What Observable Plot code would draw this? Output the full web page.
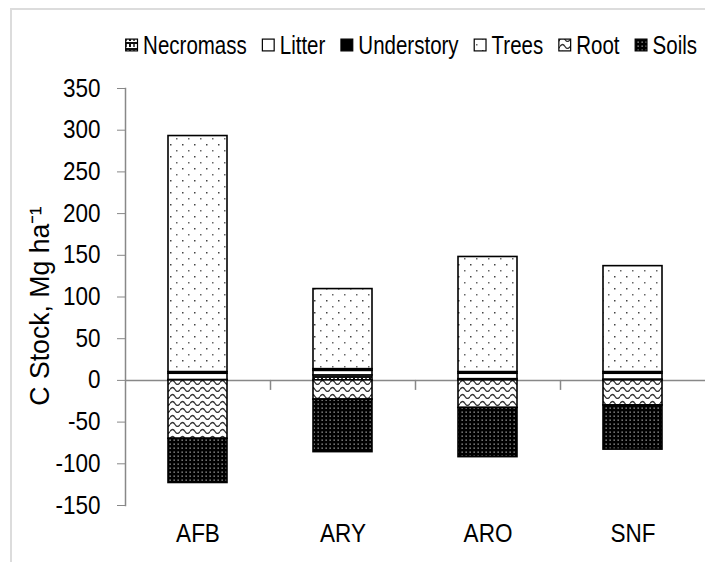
<!DOCTYPE html>
<html>
<head>
<meta charset="utf-8">
<script src="https://cdn.jsdelivr.net/npm/d3@7"></script>
<script src="https://cdn.jsdelivr.net/npm/@observablehq/plot@0.6"></script>
<style>
  html, body { margin: 0; padding: 0; background: #fff; }
  #wrap { position: relative; width: 705px; height: 562px; overflow: hidden; font-family: "Liberation Sans", Arial, sans-serif; }
  #border { position: absolute; left: 10px; top: 8px; width: 720px; height: 600px; border-left: 2px solid #dcdcdc; border-top: 2px solid #dcdcdc; pointer-events: none; }
  #legend svg, #chart svg { display: block; }
</style>
</head>
<body>
<div id="wrap">
  <div id="legend"></div>
  <div id="chart"></div>
  <div id="border"></div>
</div>
<script>
const sites = ["AFB", "ARY", "ARO", "SNF"];
const series = ["Necromass", "Litter", "Understory", "Trees", "Root", "Soils"];
const necromass = [0.5, 6, 1.5, 1];
const litter = [7.5, 5.5, 6.5, 7];
const understory = [2, 2, 2, 2];
const trees = [283, 96, 138, 127];
const root = [-70, -23, -33, -30];
const soils = [-53, -63, -59, -53];
const yTicks = [-150, -100, -50, 0, 50, 100, 150, 200, 250, 300, 350];

const valuesBySeries = { Necromass: necromass, Litter: litter, Understory: understory, Trees: trees, Root: root, Soils: soils };
const data = [];
series.forEach(s => sites.forEach((site, i) => data.push({ site, series: s, value: valuesBySeries[s][i] })));

const patternUrls = ["url(#p-necro)", "url(#p-litter)", "url(#p-under)", "url(#p-trees)", "url(#p-root)", "url(#p-soils)"];
const fontStack = "'Liberation Sans', Arial, sans-serif";

const defs = `
<defs>
  <pattern id="p-trees" patternUnits="userSpaceOnUse" width="12" height="12">
    <rect width="12" height="12" fill="#fff"/>
    <rect x="2" y="2" width="1.5" height="1.5" fill="#444"/>
    <rect x="8" y="8" width="1.5" height="1.5" fill="#666"/>
  </pattern>
  <pattern id="p-root" patternUnits="userSpaceOnUse" width="10" height="7">
    <rect width="10" height="7" fill="#fff"/>
    <path d="M0,4.5 Q2.5,0.5 5,4.5 T10,4.5" fill="none" stroke="#333" stroke-width="1.3"/>
  </pattern>
  <pattern id="p-soils" patternUnits="userSpaceOnUse" width="4" height="4">
    <rect width="4" height="4" fill="#000"/>
    <rect x="1.5" y="1.5" width="1.3" height="1.3" fill="#aaa"/>
  </pattern>
  <pattern id="p-necro" patternUnits="userSpaceOnUse" width="8" height="6">
    <rect width="8" height="6" fill="#fff"/>
    <rect x="0" y="0" width="8" height="2" fill="#111"/>
    <rect x="1" y="2" width="2" height="3" fill="#111"/>
    <rect x="5" y="2" width="2" height="3" fill="#555"/>
  </pattern>
  <pattern id="p-litter" patternUnits="userSpaceOnUse" width="4" height="4">
    <rect width="4" height="4" fill="#fff"/>
  </pattern>
  <pattern id="p-under" patternUnits="userSpaceOnUse" width="4" height="4">
    <rect width="4" height="4" fill="#000"/>
  </pattern>
</defs>`;

const chart = Plot.plot({
  width: 705,
  height: 492,
  marginTop: 18,
  marginBottom: 57,
  marginLeft: 125,
  marginRight: 0,
  style: { fontFamily: fontStack, fontSize: "25px", color: "#000", background: "#fff" },
  x: { domain: sites, padding: 0, axis: null },
  y: { domain: [-150, 350], axis: null },
  color: { domain: series, range: patternUrls },
  marks: [
    Plot.ruleY([0], { stroke: "#888", strokeWidth: 1.5 }),
    Plot.ruleX(sites.slice(0, 3), { x: d => d, y1: 0, y2: -12, dx: 72.5, stroke: "#888", strokeWidth: 1.5 }),
    Plot.barY(data, Plot.stackY({ x: "site", y: "value", z: "series", fill: "series", order: null, insetLeft: 43, insetRight: 43, stroke: "#000", strokeWidth: 1.6 })),
    Plot.frame({ anchor: "left", stroke: "#888", strokeWidth: 1.5 }),
    Plot.axisY({ ticks: yTicks, tickSize: 8, tickPadding: 17, stroke: "#888", strokeOpacity: 1, fontSize: 25, tickFormat: d => String(d), label: null, className: "squeeze" }),
    Plot.axisX({ tickSize: 0, tickPadding: 19, fontSize: 25, label: null, className: "squeeze" }),
    Plot.text(["C Stock, Mg ha⁻¹"], { frameAnchor: "left", textAnchor: "middle", dx: -85, dy: 9, rotate: -90, fontSize: 28, text: d => d, className: "title" })
  ]
});
chart.insertAdjacentHTML("afterbegin", defs);
document.getElementById("chart").appendChild(chart);

// Slightly condensed text, as in the reference
function squeeze(sel, ratio) {
  sel.each(function () {
    const len = this.getComputedTextLength();
    if (len > 0) {
      this.setAttribute("textLength", (len * ratio).toFixed(2));
      this.setAttribute("lengthAdjust", "spacingAndGlyphs");
    }
  });
}
squeeze(d3.select(chart).selectAll(".squeeze text"), 0.9);
squeeze(d3.select(chart).selectAll(".title text"), 0.95);

// Legend (drawn as SVG above the plot), text condensed with a horizontal scale
const lsvg = d3.select("#legend").append("svg").attr("width", 705).attr("height", 70)
  .style("font-family", fontStack).style("font-size", "25px");
const ratio = 0.82;
const iconSize = 13, iconGap = 5, itemGap = 15, rightEdge = 697, cy = 45;
const tmp = lsvg.append("text").attr("x", -999).attr("y", -999);
const widths = series.map(s => { tmp.text(s); return tmp.node().getComputedTextLength() * ratio; });
tmp.remove();
let xpos = rightEdge;
const positions = [];
for (let i = series.length - 1; i >= 0; i--) {
  const tx = xpos - widths[i];
  const ix = tx - iconGap - iconSize;
  positions[i] = { ix, tx };
  xpos = ix - itemGap;
}
series.forEach((s, i) => {
  lsvg.append("rect").attr("x", positions[i].ix + 0.6).attr("y", cy - iconSize / 2 + 0.6)
    .attr("width", iconSize - 1.2).attr("height", iconSize - 1.2)
    .attr("fill", patternUrls[i]).attr("stroke", "#000").attr("stroke-width", 1.2);
  lsvg.append("g").attr("transform", `translate(${positions[i].tx.toFixed(2)},${cy + 9}) scale(${ratio},1)`)
    .append("text").attr("x", 0).attr("y", 0).attr("fill", "#000").text(s);
});
</script>
</body>
</html>
